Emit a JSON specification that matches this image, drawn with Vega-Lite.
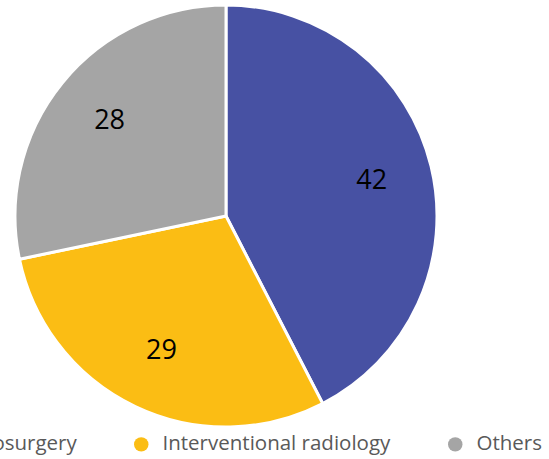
{
  "$schema": "https://vega.github.io/schema/vega-lite/v6.json",
  "width": 452,
  "height": 432,
  "autosize": {"type": "none"},
  "padding": {"left": 0, "top": 0, "right": 97, "bottom": 27},
  "background": "white",
  "data": {
    "values": [
      {"category": "Neurosurgery", "value": 42},
      {"category": "Interventional radiology", "value": 29},
      {"category": "Others", "value": 28}
    ]
  },
  "encoding": {
    "theta": {"field": "value", "type": "quantitative", "stack": true},
    "order": {"field": "value", "type": "quantitative", "sort": "descending"},
    "color": {
      "field": "category",
      "type": "nominal",
      "scale": {
        "domain": ["Neurosurgery", "Interventional radiology", "Others"],
        "range": ["#4751A3", "#FBBD14", "#A5A5A5"]
      },
      "legend": {
        "orient": "none",
        "legendX": -87,
        "legendY": 434,
        "direction": "horizontal",
        "title": null,
        "symbolType": "circle",
        "symbolSize": 210,
        "symbolStrokeWidth": 0,
        "labelFont": "Open Sans",
        "labelFontSize": 20.5,
        "labelColor": "#595959",
        "labelOffset": 11,
        "columnPadding": 54,
        "labelLimit": 400
      }
    }
  },
  "layer": [
    {
      "mark": {"type": "arc", "outerRadius": 211, "stroke": "white", "strokeWidth": 3}
    },
    {
      "mark": {"type": "text", "radius": 150, "fontSize": 27, "font": "Open Sans"},
      "encoding": {
        "text": {"field": "value", "type": "quantitative"},
        "color": {"value": "black"}
      }
    }
  ],
  "config": {"view": {"stroke": null}}
}
